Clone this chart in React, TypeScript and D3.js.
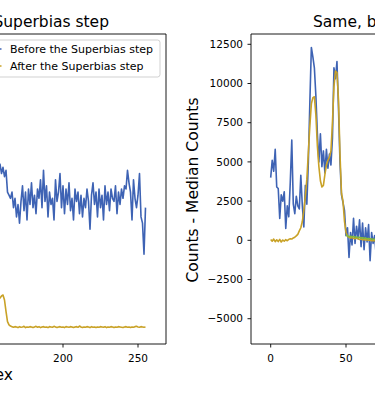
import React from "react";
import * as d3 from "d3";

// ---------- data ----------
const leftStart = 157;
const leftBefore = [
  57, 58, 55, 57, 54, 56, 49, 48, 47, 49,
  44, 47, 41, 45, 39, 46, 51, 43, 49, 40,
  50, 45, 52, 44, 48, 42, 50, 47, 53, 44,
  56, 46, 51, 41, 49, 45, 47, 40, 53, 46,
  49, 55, 44, 51, 42, 50, 45, 52, 43, 47,
  40, 50, 46, 49, 42, 48, 41, 47, 44, 50,
  46, 37, 48, 52, 45, 49, 41, 50, 44, 48,
  40, 51, 45, 49, 43, 50, 47, 46, 51, 42,
  49, 45, 50, 47, 51, 50, 56, 52, 49, 40,
  53, 47, 44, 48, 55, 41, 39, 29, 44,
];
const leftAfter = [
  15.0, 14.8, 15.5, 15.8, 14.2, 10.5, 7.2, 6.2, 5.8, 5.6,
  5.4, 5.6, 5.5, 5.3, 5.6, 5.4, 5.5, 5.7, 5.3, 5.5,
  5.4, 5.6, 5.5, 5.3, 5.5, 5.7, 5.4, 5.6, 5.3, 5.5,
  5.6, 5.4, 5.5, 5.3, 5.6, 5.5, 5.4, 5.7, 5.5, 5.3,
  5.5, 5.6, 5.4, 5.5, 5.3, 5.6, 5.5, 5.4, 5.6, 5.5,
  5.3, 5.5, 5.6, 5.4, 5.8, 5.5, 5.3, 5.5, 5.4, 5.6,
  5.5, 5.3, 5.6, 5.4, 5.5, 5.3, 5.5, 5.4, 5.6, 5.5,
  5.4, 5.6, 5.3, 5.5, 5.4, 5.6, 5.5, 5.3, 5.5, 5.4,
  5.6, 5.5, 5.4, 5.3, 5.5, 5.6, 5.4, 5.5, 5.3, 5.5,
  5.4, 5.6, 5.7, 5.5, 5.4, 5.6, 5.5, 5.4, 5.5,
];

const rightBefore = [
  4000, 5100, 4400, 5800, 3400, 3300, 1400, 2900, 2500, 3100,
  760, 2200, 1500, 3700, 6400, 2300, 1700, 2800, 2200, 2000,
  4150, 2200, 850, 3500, 2300, 5000, 8800, 12300, 11700, 11000,
  9200, 6800, 5000, 6800, 4700, 5700, 4300, 5800, 4600, 5500,
  4800, 6500, 11000, 10300, 11400, 8500, 5000, 2900, 2400, 1900,
  300, 800, -1100, 500, -300, 1400, -200, 900, 100, 1300,
  -400, 1100, -600, 800, -100, 1000, -1300, 500, -200, 300,
  -900, 400, -500,
];
const rightAfter = [
  50, -60, 80, -90, 30, -80, 60, -110, 20, -60,
  40, -30, 60, 100, 80, 150, 200, 280, 380, 600,
  800, 1200, 1900, 2800, 3900, 5600, 7300, 8700, 9100, 9150,
  8000, 6000, 4700, 3800, 3400, 3500, 4200, 4800, 5100, 5300,
  5700, 7500, 9800, 10800, 10700, 9000, 5500, 3000, 2500, 1200,
  500, 250, 200, 150, 180, 120, 100, 140, 90, 60,
  80, 40, 50, 20, 30, 0, 10, -20, -10, -30,
  -20, -40, -30,
];
const greenStart = 50;
const rightGreen = [
  350, 280, 240, 260, 220, 240, 190, 210, 170, 190,
  150, 160, 130, 140, 100, 120, 90, 80, 60, 70,
  40, 50, 30,
];

const leftXTicks = [150, 200, 250];
const rightXTicks = [0, 50, 100];
const rightYTicks = [-5000, -2500, 0, 2500, 5000, 7500, 10000, 12500];

const legendLabels = ["Before the Superbias step", "After the Superbias step"];

// ---------- styles ----------
const BLUE = "#3e63b4";
const GOLD = "#c9a227";
const GREEN = "#82b93c";
const FONT = "DejaVu Sans";

export default function App() {
  const top = 34;
  const bottom = 344;

  // left axes
  const lRight = 166;
  const xL = d3.scaleLinear().domain([200, 250]).range([63, 138]);
  const yL = d3.scaleLinear().domain([0, 100]).range([bottom, top]);

  // right axes
  const rLeft = 251;
  const xR = d3.scaleLinear().domain([0, 50]).range([270.7, 346]);
  const yR = d3.scaleLinear().domain([-6613, 13157]).range([bottom, top]);

  const lineL = d3
    .line<number>()
    .x((_, i) => xL(leftStart + i))
    .y((d) => yL(d));
  const lineR = (start: number) =>
    d3
      .line<number>()
      .x((_, i) => xR(start + i))
      .y((d) => yR(d));

  const fmt = d3.format("d");

  return (
    <svg
      width={375}
      height={399}
      style={{ position: "absolute", left: 0, top: 0, background: "#fff" }}
      fontFamily={FONT}
    >
      <defs>
        <clipPath id="clipL">
          <rect x={-300} y={top} width={300 + lRight} height={bottom - top} />
        </clipPath>
        <clipPath id="clipR">
          <rect x={rLeft} y={top} width={400} height={bottom - top} />
        </clipPath>
      </defs>

      {/* ---------- left subplot ---------- */}
      <text x={109} y={27} fontSize={15.5} textAnchor="end" fill="#000">
        Before and after the Superbias step
      </text>
      <g clipPath="url(#clipL)">
        <path d={lineL(leftBefore) || ""} fill="none" stroke={BLUE} strokeWidth={1.6} strokeLinejoin="round" />
        <path d={lineL(leftAfter) || ""} fill="none" stroke={GOLD} strokeWidth={1.6} strokeLinejoin="round" />
      </g>
      <path
        d={`M-5,${top}H${lRight}V${bottom}H-5`}
        fill="none"
        stroke="#000"
        strokeWidth={0.9}
      />
      {leftXTicks.map((t) => (
        <g key={"lx" + t}>
          <line x1={xL(t)} x2={xL(t)} y1={bottom} y2={bottom + 3.5} stroke="#000" strokeWidth={0.9} />
          <text x={xL(t)} y={361.5} fontSize={10.5} textAnchor="middle" fill="#000">
            {fmt(t)}
          </text>
        </g>
      ))}
      <text x={13} y={380} fontSize={15.5} textAnchor="end" fill="#000">
        Pixel index
      </text>

      {/* legend */}
      <rect x={-20} y={40} width={180} height={37} rx={2.5} fill="#fff" fillOpacity={0.8} stroke="#cccccc" strokeWidth={0.9} />
      {legendLabels.map((lab, i) => (
        <g key={lab}>
          <line x1={-20} x2={1.5} y1={49 + i * 17} y2={49 + i * 17} stroke={i === 0 ? BLUE : GOLD} strokeWidth={1.6} />
          <text x={10} y={53 + i * 17} fontSize={11} fill="#000">
            {lab}
          </text>
        </g>
      ))}

      {/* ---------- right subplot ---------- */}
      <text x={313} y={27} fontSize={15.5} textAnchor="start" fill="#000">
        Same, but zoomed in
      </text>
      <g clipPath="url(#clipR)">
        <path d={lineR(0)(rightBefore) || ""} fill="none" stroke={BLUE} strokeWidth={1.6} strokeLinejoin="round" />
        <path d={lineR(0)(rightAfter) || ""} fill="none" stroke={GOLD} strokeWidth={1.6} strokeLinejoin="round" />
        <path d={lineR(greenStart)(rightGreen) || ""} fill="none" stroke={GREEN} strokeWidth={1.6} strokeLinejoin="round" />
      </g>
      <path
        d={`M380,${top}H${rLeft}V${bottom}H380`}
        fill="none"
        stroke="#000"
        strokeWidth={0.9}
      />
      {rightXTicks.map((t) => (
        <g key={"rx" + t}>
          <line x1={xR(t)} x2={xR(t)} y1={bottom} y2={bottom + 3.5} stroke="#000" strokeWidth={0.9} />
          <text x={xR(t)} y={361.5} fontSize={10.5} textAnchor="middle" fill="#000">
            {fmt(t)}
          </text>
        </g>
      ))}
      {rightYTicks.map((t) => (
        <g key={"ry" + t}>
          <line x1={rLeft - 3.5} x2={rLeft} y1={yR(t)} y2={yR(t)} stroke="#000" strokeWidth={0.9} />
          <text x={243} y={yR(t)} dy="0.36em" fontSize={10.5} textAnchor="end" fill="#000">
            {fmt(t)}
          </text>
        </g>
      ))}
      <text
        transform={`translate(198,190) rotate(-90)`}
        fontSize={15.5}
        textAnchor="middle"
        fill="#000"
      >
        Counts - Median Counts
      </text>
    </svg>
  );
}
